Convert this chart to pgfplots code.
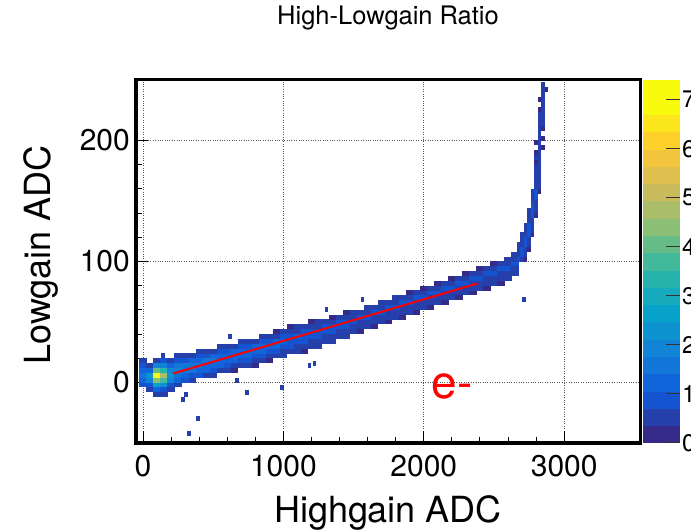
\documentclass[border=0pt]{standalone}
\usepackage{pgfplots}
\pgfplotsset{compat=1.18}
\usepackage{pgfplotstable}
\usepackage{fontspec}
\setmainfont{TeX Gyre Heros}
\pgfplotsset{/pgf/number format/assume math mode=true, /pgf/number format/1000 sep={}}
\pgfplotsset{colormap={bird}{
rgb=(0.2082,0.1664,0.5293) rgb=(0.1455,0.2479,0.6721) rgb=(0.0827,0.3293,0.8148)
rgb=(0.0641,0.3978,0.8605) rgb=(0.0721,0.4585,0.8479) rgb=(0.0722,0.5186,0.8336)
rgb=(0.0492,0.5766,0.8137) rgb=(0.0261,0.6346,0.7939) rgb=(0.0810,0.6698,0.7366)
rgb=(0.1471,0.7018,0.6739) rgb=(0.2539,0.7244,0.6054) rgb=(0.4012,0.7376,0.5311)
rgb=(0.5453,0.7483,0.4601) rgb=(0.6668,0.7414,0.4111) rgb=(0.7882,0.7345,0.3621)
rgb=(0.8745,0.7497,0.3016) rgb=(0.9490,0.7721,0.2371) rgb=(0.9926,0.8173,0.1742)
rgb=(0.9845,0.9002,0.1141) rgb=(0.9764,0.9832,0.0539) rgb=(0.9764,0.9832,0.0539)}}
\pgfdeclareplotmark{cellA}{\pgfpathrectangle{\pgfqpoint{-3.65bp}{-2.5bp}}{\pgfqpoint{7.3bp}{5bp}}\pgfusepathqfill}
\pgfdeclareplotmark{cellB}{\pgfpathrectangle{\pgfqpoint{-1.85bp}{-2.5bp}}{\pgfqpoint{3.7bp}{5bp}}\pgfusepathqfill}

\pgfplotstableread{
x y v
0 -2 0.8
0 2 1.3
0 6 1.5
0 10 1.2
0 14 0.8
0 18 0.5
50 -6 0.4
50 -2 0.9
50 2 1.8
50 6 2.4
50 10 1.4
50 14 0.6
100 -10 0.5
100 -6 1.2
100 -2 2.6
100 2 4.5
100 6 7.2
100 10 4.0
100 14 1.8
100 18 0.6
150 -10 0.4
150 -6 1.0
150 -2 2.2
150 2 3.6
150 6 4.8
150 10 3.2
150 14 2.0
150 18 0.8
200 -6 0.5
200 -2 1.0
200 2 1.8
200 6 2.2
200 10 2.0
200 14 1.3
200 18 0.6
250 -2 0.6
250 2 1.2
250 6 1.7
250 10 1.9
250 14 1.6
250 18 0.9
250 22 0.4
300 2 0.8
300 6 1.4
300 10 1.7
300 14 1.6
300 18 1.0
300 22 0.5
350 2 0.5
350 6 1.0
350 10 1.5
350 14 1.6
350 18 1.2
350 22 0.6
400 6 0.8
400 10 1.3
400 14 1.6
400 18 1.4
400 22 0.9
400 26 0.4
450 6 0.5
450 10 1.1
450 14 1.4
450 18 1.5
450 22 1.0
450 26 0.5
500 6 0.4
500 10 0.9
500 14 1.3
500 18 1.5
500 22 1.2
500 26 0.6
550 10 0.6
550 14 1.1
550 18 1.4
550 22 1.3
550 26 0.8
550 30 0.4
600 10 0.4
600 14 0.9
600 18 1.3
600 22 1.4
600 26 1.0
600 30 0.5
650 10 0.3
650 14 0.7
650 18 1.1
650 22 1.3
650 26 1.2
650 30 0.6
700 14 0.5
700 18 0.9
700 22 1.3
700 26 1.2
700 30 0.8
700 34 0.4
750 14 0.4
750 18 0.8
750 22 1.1
750 26 1.3
750 30 0.9
750 34 0.5
800 14 0.3
800 18 0.6
800 22 0.9
800 26 1.2
800 30 1.1
800 34 0.6
850 18 0.5
850 22 0.8
850 26 1.1
850 30 1.2
850 34 0.8
850 38 0.4
900 18 0.3
900 22 0.6
900 26 0.9
900 30 1.2
900 34 0.9
900 38 0.5
950 22 0.5
950 26 0.8
950 30 1.1
950 34 1.1
950 38 0.6
950 42 0.3
1000 22 0.4
1000 26 0.7
1000 30 0.9
1000 34 1.2
1000 38 0.8
1000 42 0.4
1050 26 0.5
1050 30 0.8
1050 34 1.0
1050 38 1.0
1050 42 0.6
1050 46 0.3
1100 26 0.4
1100 30 0.7
1100 34 0.9
1100 38 1.1
1100 42 0.7
1100 46 0.4
1150 26 0.3
1150 30 0.6
1150 34 0.8
1150 38 1.0
1150 42 0.8
1150 46 0.4
1200 30 0.5
1200 34 0.7
1200 38 0.9
1200 42 0.9
1200 46 0.6
1200 50 0.3
1250 30 0.4
1250 34 0.6
1250 38 0.8
1250 42 1.0
1250 46 0.7
1250 50 0.4
1300 34 0.5
1300 38 0.7
1300 42 0.9
1300 46 0.8
1300 50 0.5
1350 34 0.4
1350 38 0.6
1350 42 0.8
1350 46 0.9
1350 50 0.6
1350 54 0.3
1400 38 0.5
1400 42 0.7
1400 46 0.9
1400 50 0.8
1400 54 0.4
1450 38 0.4
1450 42 0.6
1450 46 0.8
1450 50 0.8
1450 54 0.6
1450 58 0.3
1500 42 0.4
1500 46 0.6
1500 50 0.8
1500 54 0.7
1500 58 0.4
1550 42 0.3
1550 46 0.5
1550 50 0.7
1550 54 0.8
1550 58 0.5
1600 46 0.4
1600 50 0.6
1600 54 0.8
1600 58 0.7
1600 62 0.4
1650 46 0.3
1650 50 0.5
1650 54 0.7
1650 58 0.8
1650 62 0.5
1700 50 0.4
1700 54 0.6
1700 58 0.8
1700 62 0.7
1700 66 0.4
1750 50 0.3
1750 54 0.5
1750 58 0.7
1750 62 0.8
1750 66 0.5
1800 54 0.4
1800 58 0.6
1800 62 0.8
1800 66 0.7
1800 70 0.4
1850 54 0.3
1850 58 0.5
1850 62 0.7
1850 66 0.8
1850 70 0.5
1900 58 0.4
1900 62 0.6
1900 66 0.8
1900 70 0.7
1900 74 0.3
1950 58 0.3
1950 62 0.5
1950 66 0.7
1950 70 0.8
1950 74 0.5
2000 62 0.4
2000 66 0.6
2000 70 0.8
2000 74 0.6
2000 78 0.3
2050 62 0.3
2050 66 0.5
2050 70 0.7
2050 74 0.8
2050 78 0.4
2100 66 0.4
2100 70 0.6
2100 74 0.8
2100 78 0.6
2100 82 0.3
2150 66 0.3
2150 70 0.5
2150 74 0.7
2150 78 0.8
2150 82 0.4
2200 70 0.4
2200 74 0.6
2200 78 0.8
2200 82 0.6
2200 86 0.3
2250 70 0.3
2250 74 0.5
2250 78 0.7
2250 82 0.8
2250 86 0.4
2300 74 0.4
2300 78 0.6
2300 82 0.8
2300 86 0.6
2300 90 0.3
2350 74 0.3
2350 78 0.5
2350 82 0.7
2350 86 0.8
2350 90 0.4
2400 78 0.4
2400 82 0.6
2400 86 0.8
2400 90 0.6
2400 94 0.3
2450 78 0.3
2450 82 0.5
2450 86 0.7
2450 90 0.8
2450 94 0.4
2500 82 0.4
2500 86 0.6
2500 90 0.8
2500 94 0.6
2500 98 0.3
2550 82 0.3
2550 86 0.5
2550 90 0.7
2550 94 0.8
2550 98 0.5
2600 86 0.4
2600 90 0.6
2600 94 0.8
2600 98 0.7
2600 102 0.4
2650 90 0.4
2650 94 0.7
2650 98 0.8
2650 102 0.7
2650 106 0.4
}\bandtable

\pgfplotstableread{
x y v
2625 102 0.4
2650 102 0.7
2675 102 0.8
2700 102 0.6
2725 102 0.3
2650 106 0.4
2675 106 0.7
2700 106 0.8
2725 106 0.5
2675 110 0.6
2700 110 0.8
2725 110 0.7
2750 110 0.3
2675 114 0.4
2700 114 0.7
2725 114 0.8
2750 114 0.4
2700 118 0.6
2725 118 0.8
2750 118 0.6
2700 122 0.4
2725 122 0.7
2750 122 0.8
2775 122 0.3
2725 126 0.6
2750 126 0.8
2775 126 0.4
2725 130 0.4
2750 130 0.8
2775 130 0.6
2750 134 0.7
2775 134 0.7
2750 138 0.5
2775 138 0.8
2800 138 0.3
2750 142 0.4
2775 142 0.8
2800 142 0.5
2775 146 0.8
2800 146 0.6
2775 150 0.7
2800 150 0.7
2775 154 0.5
2800 154 0.8
2775 158 0.4
2800 158 0.8
2825 158 0.3
2800 162 0.7
2825 162 0.4
2800 166 0.7
2825 166 0.5
2800 170 0.6
2825 170 0.5
2800 174 0.5
2825 174 0.6
2800 178 0.4
2825 178 0.7
2800 182 0.3
2825 182 0.7
2800 186 0.4
2825 186 0.7
2800 190 0.3
2825 190 0.7
2825 194 0.6
2850 194 0.3
2800 198 0.3
2825 198 0.6
2825 202 0.6
2850 202 0.3
2825 206 0.5
2825 210 0.6
2850 210 0.3
2825 214 0.5
2850 214 0.4
2825 218 0.4
2850 218 0.5
2825 222 0.4
2850 222 0.5
2825 226 0.3
2850 226 0.5
2850 230 0.5
2825 234 0.3
2850 234 0.4
2850 238 0.5
2850 242 0.4
2875 242 0.3
2850 246 0.4
391 -30 0.4
327 -42 0.4
284 -14 0.4
305 -10 0.4
743 -8 0.4
1307 60 0.4
1186 14 0.4
1221 16 0.4
1563 69 0.4
618 38 0.4
143 22 0.4
990 -4 0.4
669 2 0.4
2714 69 0.4
}\vertable

\begin{document}
\begin{tikzpicture}
\begin{axis}[
  at={(136bp,89bp)}, anchor=south west,
  scale only axis, width=504bp, height=363bp,
  xmin=-50, xmax=3540, ymin=-50, ymax=250,
  xtick={0,1000,2000,3000}, ytick={0,100,200},
  minor x tick num=4, minor y tick num=4,
  tick align=inside, xtick pos=bottom, ytick pos=left,
  major tick length=12bp, minor tick length=6bp,
  tick style={black, line width=1bp},
  axis line style={line width=3bp},
  grid=major, major grid style={black!65, dotted, line width=0.8bp},
  clip marker paths=true,
  xticklabel style={font=\fontsize{30bp}{36bp}\selectfont, inner sep=0pt, yshift=-12bp},
  yticklabel style={font=\fontsize{30bp}{36bp}\selectfont, inner sep=0pt, xshift=-6bp},
  title={High-Lowgain Ratio},
  title style={font=\fontsize{25.5bp}{30bp}\selectfont, at={(axis description cs:0.5,1)}, anchor=base, yshift=50bp, inner sep=0pt},
  xlabel={Highgain ADC},
  xlabel style={font=\fontsize{36bp}{40bp}\selectfont, at={(axis description cs:0.5,0)}, anchor=base, yshift=-79bp, inner sep=0pt},
  ylabel={Lowgain ADC},
  ylabel style={font=\fontsize{36bp}{40bp}\selectfont, at={(axis description cs:-0.1706,0.518)}, anchor=base, inner sep=0pt},
  colormap name=bird, colormap access=piecewise constant,
  point meta min=0, point meta max=7.4,
  colorbar,
  colorbar style={
    at={(parent axis.north east)}, anchor=north west, xshift=-5.5bp,
    scale only axis, width=37bp, height=363bp,
    ytick={0,1,...,7}, ytick pos=right, yticklabel pos=right, tick align=inside,
    major tick length=14bp, tick style={black!80, line width=1bp},
    axis line style={draw=none},
    yticklabel style={font=\fontsize{24bp}{28bp}\selectfont, inner sep=1bp, xshift=1bp},
  },
]
\addplot[scatter, only marks, mark=cellA, scatter src=explicit] table[x=x, y=y, meta=v] {\bandtable};
\addplot[scatter, only marks, mark=cellB, scatter src=explicit] table[x=x, y=y, meta=v] {\vertable};
\addplot[red, line width=2bp] coordinates {(214,7.4) (2386,82)};
\node[red, font=\fontsize{46bp}{50bp}\selectfont, anchor=base west, inner sep=0pt] at (axis cs:2054,-13.2) {e-};
\end{axis}
\pgfresetboundingbox
\path[use as bounding box] (0,0) rectangle (691bp,532bp);
\end{tikzpicture}
\end{document}
